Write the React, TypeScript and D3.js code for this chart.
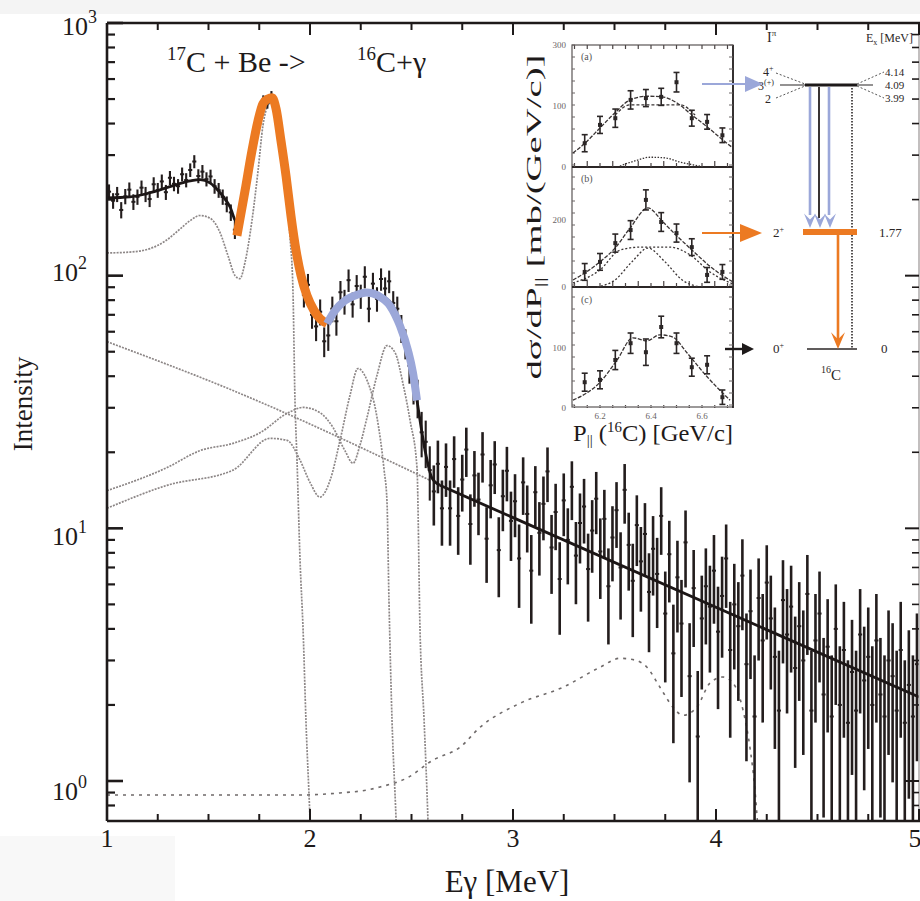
import React from 'react';
import * as d3 from 'd3';

const W = 920;
const H = 901;
const SERIF = '"Liberation Serif", "Times New Roman", "DejaVu Serif", serif';

// ---------------- main spectrum (counts per 20 keV bin) ----------------
const BIN = 0.02;
const lowStart = 1.01;
const countsLow = [215, 198, 210, 182, 206, 219, 196, 205, 223, 210, 201, 230, 218, 236, 214, 244, 231, 226, 252, 239, 262, 283, 248, 258, 241, 247, 226, 218, 205, 192, 178, 152];
const peakStart = 1.65;
const countsPeak = [158, 195, 255, 290, 385, 420, 495, 480, 515, 470, 365, 310, 215, 170, 122, 108, 84, 92, 70, 63, 72, 55];
const midStart = 2.09;
const countsMid = [58, 74, 66, 86, 79, 96, 77, 91, 83, 99, 74, 93, 81, 97, 89, 95, 78, 74, 62, 54, 44, 37];
const edgeStart = 2.53;
const countsEdge = [33, 24, 22, 17, 14, 18, 12];
const tailStart = 2.67;
const countsTail = [
  17.5, 12.0, 18.8, 11.2, 15.6, 20.5, 10.4, 16.2, 13.0, 19.6,
  9.1, 14.8, 17.9, 8.2, 13.4, 16.9, 10.7, 12.8, 7.6, 15.2,
  11.4, 6.8, 13.9, 9.6, 12.5, 16.8, 8.4, 11.6, 6.3, 12.9,
  9.0, 14.6, 7.8, 10.5, 12.2, 6.9, 9.8, 13.1, 8.1, 10.9,
  5.9, 9.2, 11.8, 7.0, 14.2, 8.6, 6.2, 10.3, 7.4, 9.5,
  5.6, 8.3, 6.6, 11.2, 4.6, 7.9, 3.2, 6.4, 4.2, 8.8,
  2.6, 5.8, 1.5, 4.4, 5.9, 4.9, 6.8, 3.9, 5.4, 7.6,
  3.3, 5.0, 4.1, 6.5, 2.9, 4.7, 1.8, 5.3, 3.6, 6.1,
  4.4, 3.1, 1.9, 5.2, 3.8, 4.9, 2.8, 4.1, 3.0, 5.5,
  1.9, 3.6, 4.6, 2.2, 3.4, 1.8, 4.0, 2.0, 3.3, 1.7,
  2.7, 1.9, 3.8, 2.5, 3.1, 2.0, 3.6, 2.2, 1.8, 3.0,
  2.6, 1.9, 3.3, 1.7, 2.4, 1.8, 2.9,
];

// ---------------- fitted curves [E (MeV), intensity] ----------------
const totalFitPeaks: [number, number][] = [
  [1.0, 203], [1.113, 205], [1.212, 213], [1.31, 225], [1.409, 237], [1.458, 240], [1.507, 233],
  [1.557, 213], [1.606, 187], [1.64, 162], [1.68, 227], [1.729, 374], [1.778, 492], [1.803, 506],
  [1.833, 449], [1.877, 272], [1.911, 158], [1.951, 100], [2.0, 76], [2.049, 67.6], [2.084, 65.2],
  [2.123, 71.4], [2.197, 81.9], [2.281, 85.7], [2.369, 81.9], [2.443, 66.4], [2.493, 48.3],
  [2.527, 32.1], [2.567, 20.3], [2.601, 15.8], [2.64, 14.8],
];
const totalFitTail: [number, number][] = [[2.64, 14.8], [5.0, 2.15]];
const peak177Highlight: [number, number][] = [
  [1.64, 144], [1.68, 217], [1.714, 312], [1.744, 410], [1.768, 479], [1.793, 501], [1.813, 506],
  [1.833, 457], [1.857, 342], [1.882, 248], [1.906, 173], [1.931, 126], [1.956, 100], [1.985, 83.4],
  [2.02, 72.7], [2.049, 67.6], [2.084, 64.6],
];
const peak23Highlight: [number, number][] = [
  [2.084, 64.6], [2.123, 72.7], [2.172, 79.6], [2.232, 84.1], [2.281, 85.7], [2.335, 83.4],
  [2.394, 76.1], [2.443, 63.4], [2.483, 50.5], [2.507, 41.4], [2.527, 32.1],
];
const response177: [number, number][] = [
  [1.0, 123], [1.113, 124], [1.212, 128], [1.286, 137], [1.36, 153], [1.409, 165], [1.458, 173],
  [1.507, 169], [1.557, 148], [1.596, 120], [1.631, 100], [1.655, 97.3], [1.68, 113], [1.714, 165],
  [1.744, 260], [1.768, 392], [1.793, 474], [1.813, 492], [1.833, 449], [1.857, 326], [1.877, 237],
  [1.901, 144], [1.916, 87.3], [1.926, 32.1], [1.936, 18.6], [1.951, 7.47], [1.966, 3.95],
  [1.98, 1.74], [2.0, 0.7], [2.01, 0.4],
];
const expBackground: [number, number][] = [[1.0, 54.8], [1.621, 35.1], [2.591, 15.5]];
const response224: [number, number][] = [
  [1.0, 12.0], [1.296, 14.8], [1.621, 17.0], [1.803, 22.7], [1.887, 22.3], [1.951, 18.6], [2.0, 15.2],
  [2.049, 13.3], [2.099, 15.5], [2.148, 22.3], [2.197, 33.6], [2.236, 42.9], [2.281, 38.5],
  [2.33, 27.5], [2.365, 17.0], [2.379, 12.9], [2.389, 5.19], [2.404, 1.74], [2.424, 0.7], [2.434, 0.4],
];
const response238: [number, number][] = [
  [1.0, 14.1], [1.296, 17.4], [1.458, 20.3], [1.621, 21.7], [1.754, 23.9], [1.887, 28.5], [1.966, 30.1],
  [2.049, 28.7], [2.113, 25.1], [2.172, 20.3], [2.212, 18.1], [2.246, 21.3], [2.281, 27.5], [2.33, 40.3],
  [2.379, 52.9], [2.419, 49.6], [2.458, 37.4], [2.493, 26.7], [2.527, 17.4], [2.542, 3.95],
  [2.562, 1.74], [2.581, 0.7], [2.59, 0.4],
];
const roomBackground: [number, number][] = [
  [1.0, 0.88], [1.458, 0.88], [1.951, 0.88], [2.148, 0.897], [2.281, 0.921], [2.345, 0.947],
  [2.478, 1.028], [2.606, 1.21], [2.739, 1.36], [2.837, 1.63], [3.034, 2.03], [3.246, 2.35],
  [3.429, 2.82], [3.527, 3.06], [3.601, 3.01], [3.66, 2.82], [3.724, 2.35], [3.788, 1.96],
  [3.837, 1.82], [3.906, 1.96], [3.97, 2.44], [4.034, 2.58], [4.084, 2.44], [4.133, 1.91],
  [4.167, 1.36], [4.192, 0.921], [4.207, 0.64],
];

const xTicks = [1, 2, 3, 4, 5];
const yDecades = [1, 10, 100, 1000];
const yDecadeExp = ['0', '1', '2', '3'];
const yLabelDy = [19, 17, 5, 12];

// ---------------- inset: parallel momentum distributions ----------------
const insetP = [6.14, 6.2, 6.26, 6.32, 6.38, 6.44, 6.5, 6.56, 6.62, 6.68];
const insetTickP = [6.2, 6.4, 6.6];
const panelA = [39, 69, 80, 110, 113, 115, 139, 80, 74, 52];
const panelAErr = [14, 14, 15, 15, 14, 14, 16, 13, 12, 12];
const panelATotal: [number, number][] = [[6.094, 23], [6.141, 39], [6.2, 64], [6.259, 89], [6.318, 110], [6.384, 116], [6.443, 115], [6.502, 105], [6.561, 85], [6.62, 66], [6.671, 48], [6.722, 31]];
const panelAPlateau: [number, number][] = [[6.259, 85], [6.318, 102], [6.514, 102], [6.573, 85]];
const panelABump: [number, number][] = [[6.278, 1.6], [6.337, 10], [6.396, 16], [6.455, 15], [6.514, 8], [6.592, 1.6]];
const panelATicks = [0, 100, 200];
const panelATickLabels = ['0', '100', '300'];

const panelB = [45, 75, 131, 170, 260, 194, 161, 119, 36, 45];
const panelBErr = [25, 25, 27, 28, 30, 28, 27, 25, 22, 22];
const panelBTotal: [number, number][] = [[6.094, 21], [6.141, 42], [6.2, 75], [6.259, 116], [6.318, 176], [6.388, 236], [6.447, 194], [6.502, 152], [6.561, 110], [6.62, 69], [6.671, 39], [6.722, 15]];
const panelBBroad: [number, number][] = [[6.094, 12], [6.2, 51], [6.278, 110], [6.357, 119], [6.475, 119], [6.553, 96], [6.631, 45], [6.722, 9]];
const panelBNarrow: [number, number][] = [[6.188, 0], [6.259, 21], [6.325, 75], [6.388, 116], [6.455, 75], [6.522, 21], [6.592, 0]];
const panelBTicks = [0, 200];

const panelC = [43, 47, 80, 108, 93, 135, 108, 68, 72, 18];
const panelCErr = [15, 15, 16, 17, 22, 18, 17, 15, 15, 12];
const panelCTotal: [number, number][] = [[6.094, 13], [6.2, 43], [6.267, 80], [6.329, 117], [6.384, 112], [6.435, 122], [6.486, 118], [6.541, 92], [6.62, 52], [6.71, 13]];
const panelCTicks = [0, 100];

const ORANGE = '#ec7a22';
const BLUE = '#9ba7d9';
const INK = '#231d1d';
const GRAYCURVE = '#8d8787';

function buildPoints(start: number, counts: number[]) {
  return counts.map((v, i) => ({ e: start + i * BIN, v }));
}

export default function App() {
  const x = d3.scaleLinear().domain([1, 5]).range([107, 919]);
  const y = d3.scaleLog().domain([1, 1000]).range([781, 23]);
  const plotTop = 23;
  const plotBottom = 821;
  const plotLeft = 107;
  const plotRight = 919;

  const line = d3
    .line<[number, number]>()
    .x((d) => x(d[0]))
    .y((d) => y(Math.max(d[1], 0.3)))
    .curve(d3.curveMonotoneX);
  const straight = d3
    .line<[number, number]>()
    .x((d) => x(d[0]))
    .y((d) => y(d[1]));

  const points = [
    ...buildPoints(lowStart, countsLow),
    ...buildPoints(peakStart, countsPeak),
    ...buildPoints(midStart, countsMid),
    ...buildPoints(edgeStart, countsEdge),
    ...buildPoints(tailStart, countsTail),
  ];

  const yMinor: number[] = [0.8, 0.9];
  [1, 10, 100].forEach((d) => {
    for (let k = 2; k <= 9; k++) yMinor.push(d * k);
  });
  const xMinor = d3.range(1.25, 5, 0.25).filter((v) => Math.abs(v - Math.round(v)) > 1e-6);

  // inset scales
  const ix = d3.scaleLinear().domain([6.2, 6.6]).range([600, 702]);
  const iyA = d3.scaleLinear().domain([0, 200]).range([167, 45]);
  const iyB = d3.scaleLinear().domain([0, 200]).range([287, 220]);
  const iyC = d3.scaleLinear().domain([0, 100]).range([408, 348]);
  const iLine = (sy: d3.ScaleLinear<number, number>) =>
    d3
      .line<[number, number]>()
      .x((d) => ix(d[0]))
      .y((d) => sy(d[1]))
      .curve(d3.curveMonotoneX);

  const insetPoints = (vals: number[], errs: number[], sy: d3.ScaleLinear<number, number>, key: string) =>
    vals.map((v, i) => {
      const cx = ix(insetP[i]);
      return (
        <g key={key + i} stroke="#2b2626" strokeWidth={1.6}>
          <line x1={cx} x2={cx} y1={sy(v + errs[i])} y2={sy(Math.max(0, v - errs[i]))} />
          <line x1={cx - 3} x2={cx + 3} y1={sy(v + errs[i])} y2={sy(v + errs[i])} />
          <line x1={cx - 3} x2={cx + 3} y1={sy(Math.max(0, v - errs[i]))} y2={sy(Math.max(0, v - errs[i]))} />
          <rect x={cx - 2} y={sy(v) - 2} width={4} height={4} fill="#2b2626" stroke="none" />
        </g>
      );
    });

  const chevron = (cx: number, tipY: number, size: number, color: string, key: string) => (
    <polygon
      key={key}
      points={`${cx - size},${tipY - size * 2.4} ${cx},${tipY} ${cx + size},${tipY - size * 2.4} ${cx},${tipY - size * 1.4}`}
      fill={color}
    />
  );

  return (
    <svg
      width={W}
      height={H}
      viewBox={`0 0 ${W} ${H}`}
      style={{ position: 'absolute', left: 0, top: 0, background: '#ffffff' }}
      fontFamily={SERIF}
    >
      <defs>
        <clipPath id="plotClip">
          <rect x={plotLeft} y={plotTop} width={plotRight - plotLeft} height={plotBottom - plotTop} />
        </clipPath>
      </defs>
      <rect x={0} y={0} width={W} height={H} fill="#ffffff" />
      <rect x={0} y={0} width={W} height={14} fill="#f4f4f4" />
      <rect x={0} y={836} width={175} height={65} fill="#f8f8f8" />

      {/* ------------ fitted component curves ------------ */}
      <g clipPath="url(#plotClip)" fill="none">
        <path d={line(roomBackground) || ''} stroke="#6f6a6a" strokeWidth={1.6} strokeDasharray="3,5" />
        <path d={line(expBackground) || ''} stroke={GRAYCURVE} strokeWidth={1.7} strokeDasharray="2,1.2" />
        <path d={line(response224) || ''} stroke={GRAYCURVE} strokeWidth={1.7} strokeDasharray="2,1.2" />
        <path d={line(response238) || ''} stroke={GRAYCURVE} strokeWidth={1.7} strokeDasharray="2,1.2" />
        <path d={line(response177) || ''} stroke={GRAYCURVE} strokeWidth={1.7} strokeDasharray="2,1.2" />
      </g>

      {/* ------------ data points with error bars ------------ */}
      <g clipPath="url(#plotClip)" stroke={INK}>
        {points.map((p, i) => {
          const err = Math.sqrt(p.v);
          const hi = p.v + err;
          const lo = Math.max(p.v - err, 0.3);
          const cx = x(p.e);
          return (
            <g key={'pt' + i}>
              <line x1={cx} x2={cx} y1={y(hi)} y2={y(lo)} strokeWidth={p.e > 2.6 ? 2.6 : 2.1} />
              <line x1={x(p.e - BIN / 2)} x2={x(p.e + BIN / 2)} y1={y(p.v)} y2={y(p.v)} strokeWidth={2} />
            </g>
          );
        })}
      </g>

      {/* ------------ total fit ------------ */}
      <g clipPath="url(#plotClip)" fill="none">
        <path d={line(totalFitPeaks) || ''} stroke="#1c1616" strokeWidth={2.8} />
        <path d={straight(totalFitTail) || ''} stroke="#1c1616" strokeWidth={2.8} />
        <path d={line(peak177Highlight) || ''} stroke={ORANGE} strokeWidth={9} strokeLinecap="butt" strokeLinejoin="round" />
        <path d={line(peak23Highlight) || ''} stroke={BLUE} strokeWidth={8} strokeLinecap="butt" strokeLinejoin="round" />
      </g>

      {/* ------------ frame and ticks ------------ */}
      <g stroke="#1e1a1a" fill="none">
        <line x1={plotLeft} x2={plotLeft} y1={plotTop} y2={plotBottom} strokeWidth={2.6} />
        <line x1={plotLeft} x2={plotRight + 1} y1={plotBottom} y2={plotBottom} strokeWidth={2.6} />
        <line x1={plotLeft} x2={plotRight + 1} y1={plotTop} y2={plotTop} strokeWidth={2.6} />
        <line x1={plotRight} x2={plotRight} y1={plotTop} y2={plotBottom} strokeWidth={1.2} stroke="#9a9494" />
        {yDecades.map((d) => (
          <g key={'yd' + d}>
            <line x1={plotLeft} x2={plotLeft + 16} y1={y(d)} y2={y(d)} strokeWidth={2.6} />
            <line x1={plotRight - 14} x2={plotRight} y1={y(d)} y2={y(d)} strokeWidth={2} />
          </g>
        ))}
        {yMinor.map((d) => (
          <g key={'ym' + d}>
            <line x1={plotLeft} x2={plotLeft + 8} y1={y(d)} y2={y(d)} strokeWidth={2.2} />
            <line x1={plotRight - 7} x2={plotRight} y1={y(d)} y2={y(d)} strokeWidth={1.6} />
          </g>
        ))}
        {xTicks.map((t) => (
          <g key={'xt' + t}>
            <line x1={x(t)} x2={x(t)} y1={plotBottom} y2={plotBottom - 12} strokeWidth={2} />
            <line x1={x(t)} x2={x(t)} y1={plotTop} y2={plotTop + 12} strokeWidth={2} />
          </g>
        ))}
        {xMinor.map((t) => (
          <g key={'xm' + t}>
            <line x1={x(t)} x2={x(t)} y1={plotBottom} y2={plotBottom - 7} strokeWidth={2} />
            <line x1={x(t)} x2={x(t)} y1={plotTop} y2={plotTop + 7} strokeWidth={2} />
          </g>
        ))}
      </g>

      {/* ------------ tick labels ------------ */}
      <g fill="#1e1a1a" fontSize={26}>
        {yDecades.map((d, i) => (
          <text key={'yl' + d} x={i === 3 ? 97 : 87} y={y(d) + yLabelDy[i]} textAnchor="end">
            10
            <tspan dy={-12} fontSize={18}>{yDecadeExp[i]}</tspan>
          </text>
        ))}
        {xTicks.map((t) => (
          <text key={'xl' + t} x={t === 5 ? x(t) - 4 : x(t)} y={847} textAnchor="middle">
            {t}
          </text>
        ))}
      </g>
      <text
        x={0}
        y={0}
        transform="translate(32,404) rotate(-90)"
        textAnchor="middle"
        fontSize={27}
        fill="#1e1a1a"
      >
        Intensity
      </text>
      <text x={507} y={892} textAnchor="middle" fontSize={31} fill="#1e1a1a">
        Eγ [MeV]
      </text>

      {/* ------------ reaction title ------------ */}
      <text x={167} y={72} fontSize={30} fill="#1e1a1a">
        <tspan fontSize={19} dy={-12}>17</tspan>
        <tspan dy={12}>C + Be -&gt;</tspan>
      </text>
      <text x={357} y={72} fontSize={30} fill="#1e1a1a">
        <tspan fontSize={19} dy={-12}>16</tspan>
        <tspan dy={12}>C+γ</tspan>
      </text>

      {/* ------------ inset: momentum distributions ------------ */}
      <g fontFamily={SERIF}>
        <rect x={572} y={45} width={161} height={362} fill="#ffffff" stroke="#5a5555" strokeWidth={1.2} />
        <line x1={572} x2={733} y1={iyA(0)} y2={iyA(0)} stroke="#2b2626" strokeWidth={1.8} />
        <line x1={572} x2={733} y1={iyB(0)} y2={iyB(0)} stroke="#2b2626" strokeWidth={1.8} />
        <line x1={733} x2={733} y1={45} y2={408} stroke="#2b2626" strokeWidth={1.8} />
        {d3.range(6.1, 6.72, 0.05).map((p, i) => (
          <g key={'ipt' + i} stroke="#4a4444" strokeWidth={1.2}>
            <line x1={ix(p)} x2={ix(p)} y1={iyA(0)} y2={iyA(0) - (i % 2 === 0 ? 4 : 6)} />
            <line x1={ix(p)} x2={ix(p)} y1={iyB(0)} y2={iyB(0) - (i % 2 === 0 ? 4 : 6)} />
            <line x1={ix(p)} x2={ix(p)} y1={45} y2={49} />
            <line x1={ix(p)} x2={ix(p)} y1={iyC(0)} y2={iyC(0) - 3} strokeDasharray="1,1" />
          </g>
        ))}
        {d3.range(45, 407, 12).map((yy, i) => (
          <g key={'iyt' + i} stroke="#6a6464" strokeWidth={1}>
            <line x1={572} x2={575} y1={yy} y2={yy} />
            <line x1={729} x2={733} y1={yy} y2={yy} />
          </g>
        ))}
        <g fill="#6a6464" fontSize={9} textAnchor="end">
          {panelATicks.map((t, i) => (
            <text key={'ta' + t} x={566} y={iyA(t) + 3}>
              {panelATickLabels[i]}
            </text>
          ))}
          {panelBTicks.map((t) => (
            <text key={'tb' + t} x={566} y={iyB(t) + 3}>
              {t}
            </text>
          ))}
          {panelCTicks.map((t) => (
            <text key={'tc' + t} x={566} y={iyC(t) + 3}>
              {t}
            </text>
          ))}
        </g>
        <g fill="#6a6464" fontSize={9} textAnchor="middle">
          {insetTickP.map((p) => (
            <text key={'tp' + p} x={ix(p)} y={419}>
              {p.toFixed(1)}
            </text>
          ))}
        </g>
        <g fill="#555" fontSize={10}>
          <text x={581} y={60}>(a)</text>
          <text x={581} y={182}>(b)</text>
          <text x={581} y={303}>(c)</text>
        </g>
        <g fill="none" stroke="#3a3434" strokeWidth={1.3}>
          <path d={iLine(iyA)(panelATotal) || ''} strokeDasharray="4,1.5" />
          <path d={iLine(iyA)(panelAPlateau) || ''} strokeDasharray="3,2" />
          <path d={iLine(iyA)(panelABump) || ''} strokeDasharray="1.5,1.5" />
          <path d={iLine(iyB)(panelBTotal) || ''} strokeDasharray="4,1.5" />
          <path d={iLine(iyB)(panelBBroad) || ''} strokeDasharray="2,2" />
          <path d={iLine(iyB)(panelBNarrow) || ''} strokeDasharray="2,2" />
          <path d={iLine(iyC)(panelCTotal) || ''} strokeDasharray="4,1.5" />
        </g>
        {insetPoints(panelA, panelAErr, iyA, 'a')}
        {insetPoints(panelB, panelBErr, iyB, 'b')}
        {insetPoints(panelC, panelCErr, iyC, 'c')}

        <text
          transform="translate(541,217) rotate(-90)"
          textAnchor="middle"
          fontSize={21}
          fill="#1e1a1a"
          textLength={325}
          lengthAdjust="spacingAndGlyphs"
        >
          dσ/dP<tspan fontSize={14} dy={4}>||</tspan>
          <tspan dy={-4}>{'   [mb/(GeV/c)]'}</tspan>
        </text>
        <text x={573} y={441} fontSize={23} fill="#1e1a1a" textLength={160} lengthAdjust="spacingAndGlyphs">
          P<tspan fontSize={14} dy={4}>||</tspan>
          <tspan dy={-4}>{'  ('}</tspan>
          <tspan fontSize={14} dy={-9}>16</tspan>
          <tspan dy={9}>{'C)  [GeV/c]'}</tspan>
        </text>
      </g>

      {/* ------------ level scheme of 16C ------------ */}
      <g fontFamily={SERIF} fill="#2b2626">
        <text x={767} y={42} fontSize={14}>
          I<tspan fontSize={9} dy={-6}>π</tspan>
        </text>
        <text x={866} y={42} fontSize={12}>
          E<tspan fontSize={8} dy={3}>x</tspan>
          <tspan dy={-3}> [MeV]</tspan>
        </text>
        <text x={763} y={76} fontSize={12}>
          4<tspan fontSize={8} dy={-5}>+</tspan>
        </text>
        <text x={758} y={90} fontSize={12}>
          3<tspan fontSize={8} dy={-5}>(+)</tspan>
        </text>
        <text x={765} y={103} fontSize={12}>2</text>
        <text x={885} y={76} fontSize={11}>4.14</text>
        <text x={885} y={89} fontSize={11}>4.09</text>
        <text x={885} y={102} fontSize={11}>3.99</text>
        <text x={773} y={237} fontSize={13}>
          2<tspan fontSize={8} dy={-5}>+</tspan>
        </text>
        <text x={879} y={237} fontSize={13}>1.77</text>
        <text x={773} y={353} fontSize={13}>
          0<tspan fontSize={8} dy={-5}>+</tspan>
        </text>
        <text x={881} y={353} fontSize={13}>0</text>
        <text x={821} y={380} fontSize={15}>
          <tspan fontSize={10} dy={-7}>16</tspan>
          <tspan dy={7}>C</tspan>
        </text>
      </g>
      <g fill="none">
        <line x1={780} x2={873} y1={85} y2={85} stroke="#2b2626" strokeWidth={1.2} />
        <line x1={805} x2={857} y1={85} y2={85} stroke="#1e1a1a" strokeWidth={3} />
        <path d="M776,73 L805,84" stroke="#555" strokeWidth={1} strokeDasharray="2,2" />
        <path d="M776,98 L805,86" stroke="#555" strokeWidth={1} strokeDasharray="2,2" />
        <path d="M857,84 L884,72" stroke="#555" strokeWidth={1} strokeDasharray="2,2" />
        <path d="M857,86 L884,98" stroke="#555" strokeWidth={1} strokeDasharray="2,2" />
        <line x1={852} x2={852} y1={88} y2={349} stroke="#2b2626" strokeWidth={1.6} strokeDasharray="1.5,1.5" />
        <line x1={810} x2={810} y1={87} y2={215} stroke={BLUE} strokeWidth={2.6} />
        <line x1={829} x2={829} y1={87} y2={215} stroke={BLUE} strokeWidth={2.6} />
        <line x1={819} x2={819} y1={87} y2={218} stroke="#3a3434" strokeWidth={2} />
        <line x1={803} x2={857} y1={232} y2={232} stroke={ORANGE} strokeWidth={6} />
        <line x1={807} x2={857} y1={349} y2={349} stroke="#2b2626" strokeWidth={1.4} />
        <line x1={838} x2={838} y1={235} y2={340} stroke={ORANGE} strokeWidth={2.6} />
        <line x1={702} x2={748} y1={84} y2={84} stroke={BLUE} strokeWidth={2} />
        <line x1={702} x2={745} y1={233} y2={233} stroke={ORANGE} strokeWidth={2.2} />
        <line x1={725} x2={745} y1={349} y2={349} stroke="#1e1a1a" strokeWidth={2.4} />
      </g>
      {chevron(810, 228, 6, BLUE, 'c1')}
      {chevron(820, 228, 6, BLUE, 'c2')}
      {chevron(830, 228, 6, BLUE, 'c3')}
      {chevron(838, 349, 7, ORANGE, 'c4')}
      <polygon points="745,76 763,84 745,92" fill={BLUE} />
      <polygon points="740,224 762,233 740,242" fill={ORANGE} />
      <polygon points="742,343 754,349 742,355" fill="#1e1a1a" />
    </svg>
  );
}
